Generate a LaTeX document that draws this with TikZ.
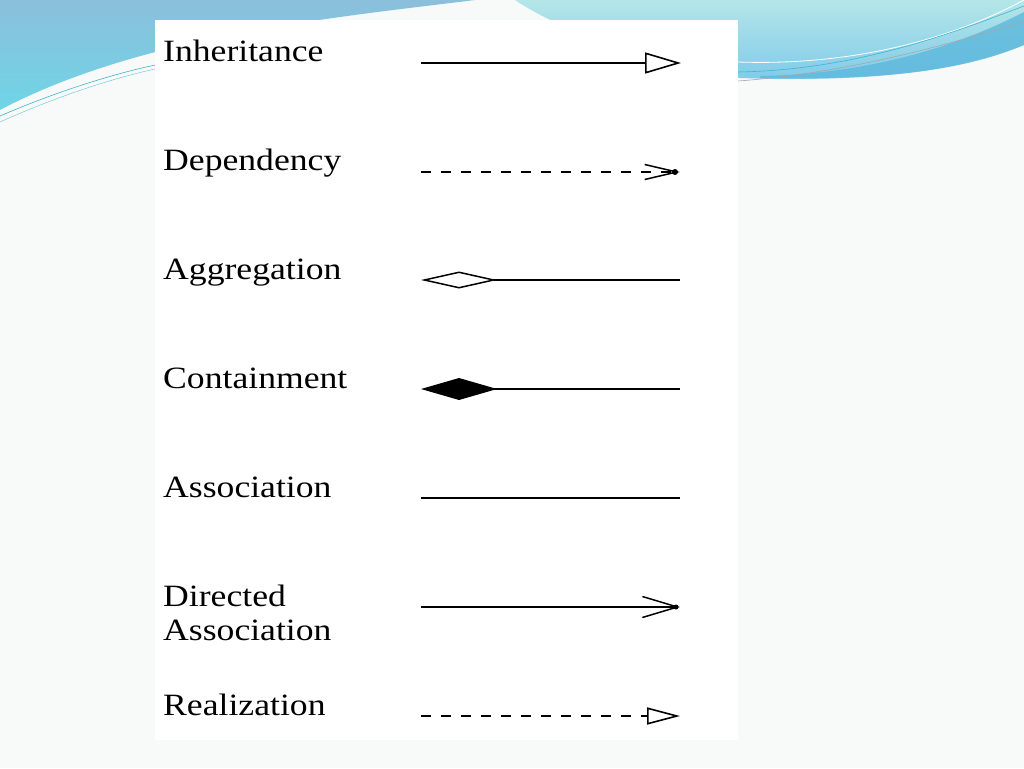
\documentclass[tikz,border=0pt]{standalone}
\usepackage{fontspec}
\setmainfont{Liberation Serif}
\newfontfamily\lblfont[FakeStretch=1.15]{Liberation Serif}
\usetikzlibrary{arrows.meta}
\definecolor{bgc}{HTML}{F8F9F9}
\definecolor{wavetop}{HTML}{8BBFDC}
\definecolor{wavelow}{HTML}{6FD5E6}
\definecolor{cyantop}{HTML}{B4E6E8}
\definecolor{cyanlow}{HTML}{7FCAEA}
\definecolor{bandc}{HTML}{5DB8DC}
\definecolor{thinc}{HTML}{3FB6C8}
\tikzset{
  lbl/.style={anchor=base west, inner sep=0pt, font=\lblfont\fontsize{31}{36}\selectfont},
  conn/.style={line width=1.5pt, black},
  dashconn/.style={conn, dash pattern=on 10pt off 10pt},
}
\begin{document}
\begin{tikzpicture}[x=1pt,y=-1pt]
\useasboundingbox (0,0) rectangle (1024,768);
\fill[bgc] (0,0) rectangle (1024,768);
% left blue wave
\shade[top color=wavetop, bottom color=wavelow]
  (0,0) -- (475,0) .. controls (330,18) and (140,36) .. (0,110) -- cycle;
\draw[thinc, line width=0.6pt] (0,116) .. controls (60,90) and (120,72) .. (160,64);
\draw[thinc!70, line width=0.5pt] (0,122) .. controls (60,95) and (120,76) .. (160,68);
% right cyan wave
\shade[top color=cyantop, bottom color=cyanlow]
  (515,0) -- (1024,0) -- (1024,45) .. controls (950,74) and (860,82) .. (740,78)
  .. controls (640,60) and (560,30) .. (515,0) -- cycle;
\fill[bandc, opacity=0.8] (760,76) .. controls (880,74) and (970,40) .. (1024,12)
  -- (1024,45) .. controls (960,72) and (880,80) .. (760,78) -- cycle;
\draw[white, line width=0.8pt] (738,62) .. controls (850,66) and (950,40) .. (1024,0);
\draw[thinc, line width=0.6pt] (738,72) .. controls (860,70) and (960,30) .. (1024,6);
\draw[gray!70, line width=0.6pt] (738,81) .. controls (860,72) and (960,40) .. (1024,22);
% panel
\fill[white] (155,20) rectangle (738,740);
% labels
\node[lbl] (tinh) at (163,62) {Inheritance};
\node[lbl] (tdep) at (163,170) {Dependency};
\node[lbl] (tagg) at (163,279) {Aggregation};
\node[lbl] (tcon) at (163,388) {Containment};
\node[lbl] (tass) at (163,497) {Association};
\node[lbl] (tdir) at (163,606) {Directed};
\node[lbl] (tdas) at (163,640) {Association};
\node[lbl] (trea) at (163,715) {Realization};
% connector end points
\coordinate (i1) at (421,63);  \coordinate (i2) at (681,63);
\coordinate (d1) at (421,172); \coordinate (d2) at (680,172);
\coordinate (g1) at (421,280); \coordinate (g2) at (680,280);
\coordinate (c1) at (421,389); \coordinate (c2) at (680,389);
\coordinate (a1) at (421,498); \coordinate (a2) at (680,498);
\coordinate (r1) at (421,607); \coordinate (r2) at (680,607);
\coordinate (z1) at (421,716); \coordinate (z2) at (680,716);
% connectors
\draw[conn, line width=2.2pt, -{Triangle[open, length=36pt, width=21pt, line width=1.6pt]}] (i1) -- (i2);
\draw[dashconn, -{Straight Barb[length=32pt, width=15pt]}] (d1) -- (d2);
\fill (d2) ++(-5,0) circle (3pt);
\draw[conn, {Diamond[open, length=76pt, width=17pt]}-] (g1) -- (g2);
\draw[conn, {Diamond[length=76pt, width=22pt]}-] (c1) -- (c2);
\draw[conn] (a1) -- (a2);
\draw[conn, -{Straight Barb[length=35pt, width=21pt]}] (r1) -- (r2);
\fill (r2) ++(-4,0) circle (2.5pt);
\draw[dashconn, -{Triangle[open, length=33pt, width=17pt, line width=1.6pt]}] (z1) -- (z2);
\end{tikzpicture}
\end{document}
